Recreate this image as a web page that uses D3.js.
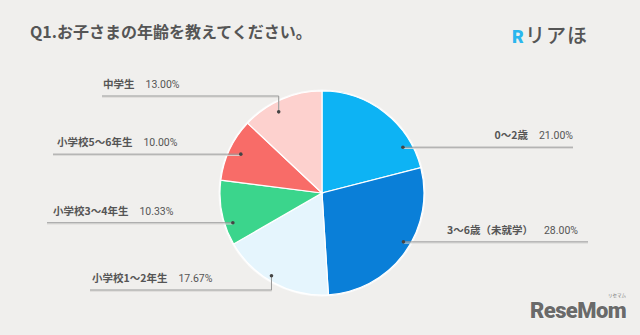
<!DOCTYPE html>
<html>
<head>
<meta charset="utf-8">
<script src="https://cdn.jsdelivr.net/npm/d3@7"></script>
<style>
  html, body { margin: 0; padding: 0; background: #f0efed; }
  svg { display: block; font-family: "Noto Sans CJK JP", "Noto Sans", sans-serif; }
</style>
</head>
<body>
<div id="chart"></div>
<script>
// categories and shares (%)
const categories = ["0～2歳", "3～6歳（未就学）", "小学校1～2年生", "小学校3～4年生", "小学校5～6年生", "中学生"];
const values     = [21.00, 28.00, 17.67, 10.33, 10.00, 13.00];
const colors     = ["#0db3f4", "#0a7fd8", "#e5f5fd", "#3bd58c", "#f86c68", "#fdd1ce"];

const W = 640, H = 335;
const cx = 322, cy = 193, R = 102;

// callout layout: where the dot sits inside the slice, where the line runs
const callouts = [
  { frac: 0.80, rd: 93, lineY: null, endX: 573, textX: 573, side: "right" },
  { frac: 0.45, rd: 95, lineY: null, endX: 588, textX: 578, side: "right" },
  { frac: 0.55, rd: 97, lineY: 290,  endX: 90,  textX: 92,  side: "left" },
  { frac: 0.31, rd: 94, lineY: null, endX: 47,  textX: 53,  side: "left" },
  { frac: 0.51, rd: 90, lineY: null, endX: 53,  textX: 57,  side: "left" },
  { frac: 0.40, rd: 92, lineY: 96,   endX: 102, textX: 103, side: "left" }
];

const svg = d3.select("#chart").append("svg")
    .attr("width", W).attr("height", H);

svg.append("rect").attr("width", W).attr("height", H).attr("fill", "#f0efed");

// title
svg.append("text")
    .attr("x", 30).attr("y", 38)
    .attr("font-size", 16).attr("font-weight", 700)
    .attr("fill", "#555")
    .text("Q1.お子さまの年齢を教えてください。");

// logo top right
const logo = svg.append("g");
logo.append("text")
    .attr("x", 512).attr("y", 43)
    .attr("font-size", 18).attr("font-weight", 900)
    .attr("font-family", "Roboto, sans-serif")
    .attr("fill", "#2bb6ee")
    .text("R");
logo.append("text")
    .attr("x", 525).attr("y", 43)
    .attr("font-size", 20).attr("font-weight", 500)
    .attr("letter-spacing", 1)
    .attr("fill", "#555")
    .text("リアほ");

// pie
const pie = d3.pie().sort(null).value(d => d)(values);
const arc = d3.arc().innerRadius(0).outerRadius(R);

const g = svg.append("g").attr("transform", `translate(${cx},${cy})`);

g.append("circle").attr("r", R + 1.5).attr("fill", "#fafafa");

g.selectAll("path")
  .data(pie)
  .join("path")
    .attr("d", arc)
    .attr("fill", (d, i) => colors[i])
    .attr("stroke", "#ffffff")
    .attr("stroke-width", 1.2);

// callouts
pie.forEach((a, i) => {
  const c = callouts[i];
  const ang = a.startAngle + c.frac * (a.endAngle - a.startAngle);
  const px = cx + Math.sin(ang) * c.rd;
  const py = cy - Math.cos(ang) * c.rd;
  const ly = c.lineY == null ? py : c.lineY;

  const pts = c.lineY == null
    ? [[px, py], [c.endX, py]]
    : [[px, py], [px, ly], [c.endX, ly]];

  // soft shadow under the leader line
  svg.append("path")
      .attr("d", d3.line()(pts.map(p => [p[0], p[1] + 1.2])))
      .attr("fill", "none").attr("stroke", "#d9d8d6").attr("stroke-width", 1);
  svg.append("path")
      .attr("d", d3.line()(pts))
      .attr("fill", "none").attr("stroke", "#999").attr("stroke-width", 1);
  svg.append("circle")
      .attr("cx", px).attr("cy", py).attr("r", 1.8)
      .attr("fill", "#444");

  const t = svg.append("text")
      .attr("x", c.textX).attr("y", ly - 8)
      .attr("font-size", 10.5)
      .attr("fill", "#555")
      .attr("text-anchor", c.side === "right" ? "end" : "start");
  t.append("tspan").attr("font-weight", 700).text(categories[i]);
  t.append("tspan").attr("dx", 11)
      .attr("font-family", "Roboto, 'Noto Sans', sans-serif")
      .text(values[i].toFixed(2) + "%");
});

// ReseMom watermark
svg.append("text")
    .attr("x", 530).attr("y", 318)
    .attr("font-size", 22).attr("font-weight", 900)
    .attr("font-family", "Roboto, sans-serif")
    .attr("letter-spacing", -0.6)
    .attr("fill", "#6a6a6a")
    .attr("stroke", "#fff").attr("stroke-width", 0.6).attr("paint-order", "stroke")
    .text("ReseMom");
svg.append("text")
    .attr("x", 608).attr("y", 297)
    .attr("font-size", 4.5)
    .attr("fill", "#777")
    .text("リセマム");
</script>
</body>
</html>
